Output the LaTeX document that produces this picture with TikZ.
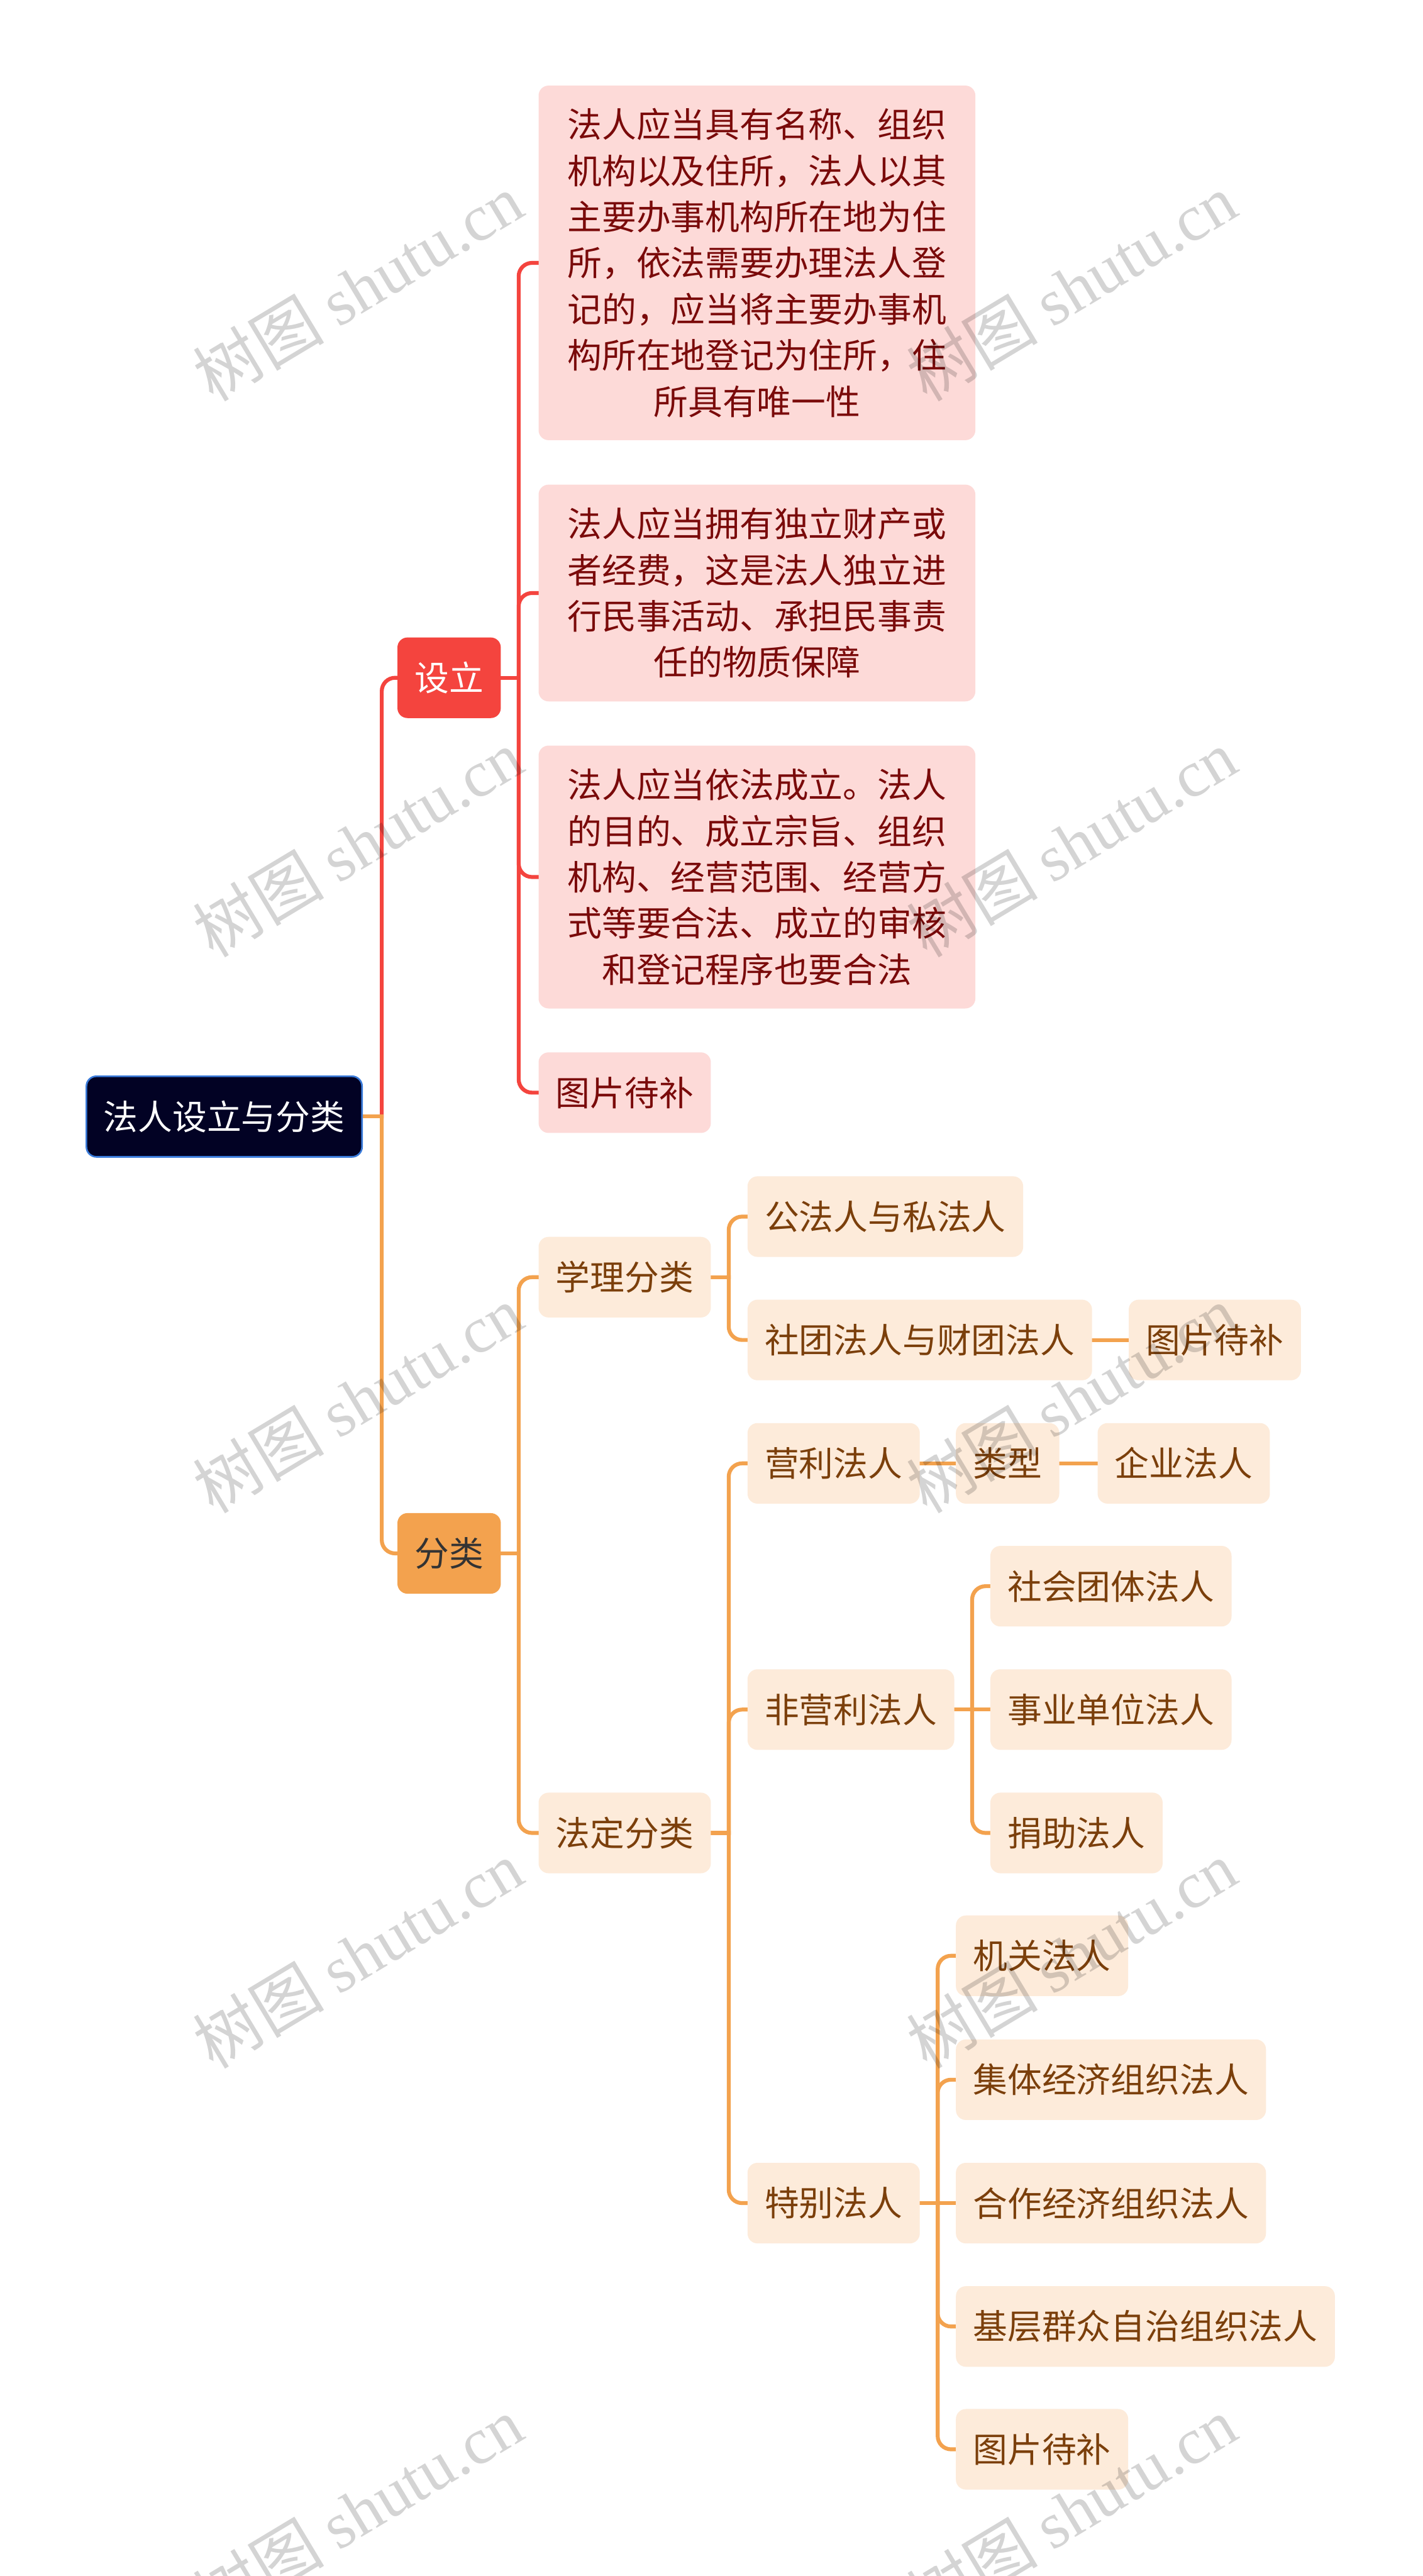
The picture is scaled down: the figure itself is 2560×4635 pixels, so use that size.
\documentclass[tikz,border=0pt]{standalone}
\usepackage{fontspec}
\setmainfont{Noto Sans CJK SC}
\newfontfamily\wmlatin{Liberation Serif}
\newfontfamily\wmcjk{Noto Sans CJK SC}
\usetikzlibrary{calc}
\pgfdeclarelayer{bg}
\pgfsetlayers{bg,main}
\definecolor{redc}{HTML}{F4443E}
\definecolor{orangec}{HTML}{F3A24E}
\definecolor{pinkfill}{HTML}{FDDAD8}
\definecolor{pinktext}{HTML}{7A0A0A}
\definecolor{peachfill}{HTML}{FDEBDA}
\definecolor{browntext}{HTML}{7B3F0B}
\definecolor{rootfill}{HTML}{020224}
\definecolor{rootborder}{HTML}{3A7BDA}
\definecolor{darktext}{HTML}{333333}
\begin{document}
\begin{tikzpicture}[x=1pt,y=-1pt,
  base/.style={rounded corners=18pt, inner xsep=31pt, inner ysep=0pt, minimum height=145pt,
    font=\fontsize{62}{83}\selectfont, anchor=west},
  pinkbox/.style={base, fill=pinkfill, text=pinktext},
  multibox/.style={pinkbox, text width=684pt, align=center, inner xsep=51pt},
  peachbox/.style={base, fill=peachfill, text=browntext},
  rootbox/.style={base, fill=rootfill, draw=rootborder, line width=3pt, text=white},
  redbox/.style={base, fill=redc, text=white},
  orangebox/.style={base, fill=orangec, text=darktext},
  redline/.style={draw=redc, line width=7pt, rounded corners=24pt, line cap=rect},
  orangeline/.style={draw=orangec, line width=7pt, rounded corners=24pt, line cap=rect},
  wmark/.style={text=black, text opacity=0.17, font=\fontsize{118}{130}\selectfont, rotate=31, inner sep=0pt}
]
\useasboundingbox (0,0) rectangle (2560,4635);

% nodes
\node[rootbox] (root) at (154,2009) {法人设立与分类};
\node[redbox] (sl) at (715,1219.5) {设立};
\node[multibox, minimum height=638pt] (s1) at (969,473) {法人应当具有名称、组织\\机构以及住所，法人以其\\主要办事机构所在地为住\\所，依法需要办理法人登\\记的，应当将主要办事机\\构所在地登记为住所，住\\所具有唯一性};
\node[multibox, minimum height=390pt] (s2) at (969,1067) {法人应当拥有独立财产或\\者经费，这是法人独立进\\行民事活动、承担民事责\\任的物质保障};
\node[multibox, minimum height=473pt] (s3) at (969,1578) {法人应当依法成立。法人\\的目的、成立宗旨、组织\\机构、经营范围、经营方\\式等要合法、成立的审核\\和登记程序也要合法};
\node[pinkbox] (s4) at (969,1966) {图片待补};

\node[orangebox] (fl) at (715,2795) {分类};
\node[peachbox] (xl) at (969,2298) {学理分类};
\node[peachbox] (gf) at (1345,2189) {公法人与私法人};
\node[peachbox] (st) at (1345,2411) {社团法人与财团法人};
\node[peachbox] (tp1) at (2031,2411) {图片待补};
\node[peachbox] (fd) at (969,3298) {法定分类};
\node[peachbox] (yl) at (1345,2633) {营利法人};
\node[peachbox] (lx) at (1720,2633) {类型};
\node[peachbox] (qy) at (1975,2633) {企业法人};
\node[peachbox] (fyl) at (1345,3076) {非营利法人};
\node[peachbox] (sh) at (1782,2854) {社会团体法人};
\node[peachbox] (sy) at (1782,3076) {事业单位法人};
\node[peachbox] (jz) at (1782,3298) {捐助法人};
\node[peachbox] (tb) at (1345,3964) {特别法人};
\node[peachbox] (jg) at (1720,3519) {机关法人};
\node[peachbox] (jt) at (1720,3742) {集体经济组织法人};
\node[peachbox] (hz) at (1720,3964) {合作经济组织法人};
\node[peachbox] (jc) at (1720,4186) {基层群众自治组织法人};
\node[peachbox] (tp2) at (1720,4407) {图片待补};

% connectors
\begin{pgfonlayer}{bg}
\fill[white] (0,0) rectangle (2560,4635);
\coordinate (jr) at ($(root.east)+(34,0)$);
\draw[redline] (jr) |- (sl.west);
\draw[orangeline] (jr) |- (fl.west);
\draw[orangeline] (root.east) -- (jr);

\coordinate (j1) at ($(sl.east)+(32,0)$);
\draw[redline] (sl.east) -- (j1);
\foreach \c in {s1,s2,s3,s4} \draw[redline] (j1) |- (\c.west);

\coordinate (j2) at ($(fl.east)+(32,0)$);
\draw[orangeline] (fl.east) -- (j2);
\foreach \c in {xl,fd} \draw[orangeline] (j2) |- (\c.west);

\coordinate (j3) at ($(xl.east)+(32,0)$);
\draw[orangeline] (xl.east) -- (j3);
\foreach \c in {gf,st} \draw[orangeline] (j3) |- (\c.west);
\draw[orangeline] (st.east) -- (tp1.west);

\coordinate (j4) at ($(fd.east)+(32,0)$);
\draw[orangeline] (fd.east) -- (j4);
\foreach \c in {yl,fyl,tb} \draw[orangeline] (j4) |- (\c.west);
\draw[orangeline] (yl.east) -- (lx.west);
\draw[orangeline] (lx.east) -- (qy.west);

\coordinate (j5) at ($(fyl.east)+(32,0)$);
\draw[orangeline] (fyl.east) -- (sy.west);
\foreach \c in {sh,jz} \draw[orangeline] (j5) |- (\c.west);

\coordinate (j6) at ($(tb.east)+(32,0)$);
\draw[orangeline] (tb.east) -- (hz.west);
\foreach \c in {jg,jt,jc,tp2} \draw[orangeline] (j6) |- (\c.west);
\end{pgfonlayer}

% watermarks
\foreach \wx in {644,1928}{
  \foreach \wy in {517,1517,2517,3517,4517}{
    \node[wmark] at (\wx,\wy) {{\wmcjk 树图} {\wmlatin shutu.cn}};
  }
}
\end{tikzpicture}
\end{document}
